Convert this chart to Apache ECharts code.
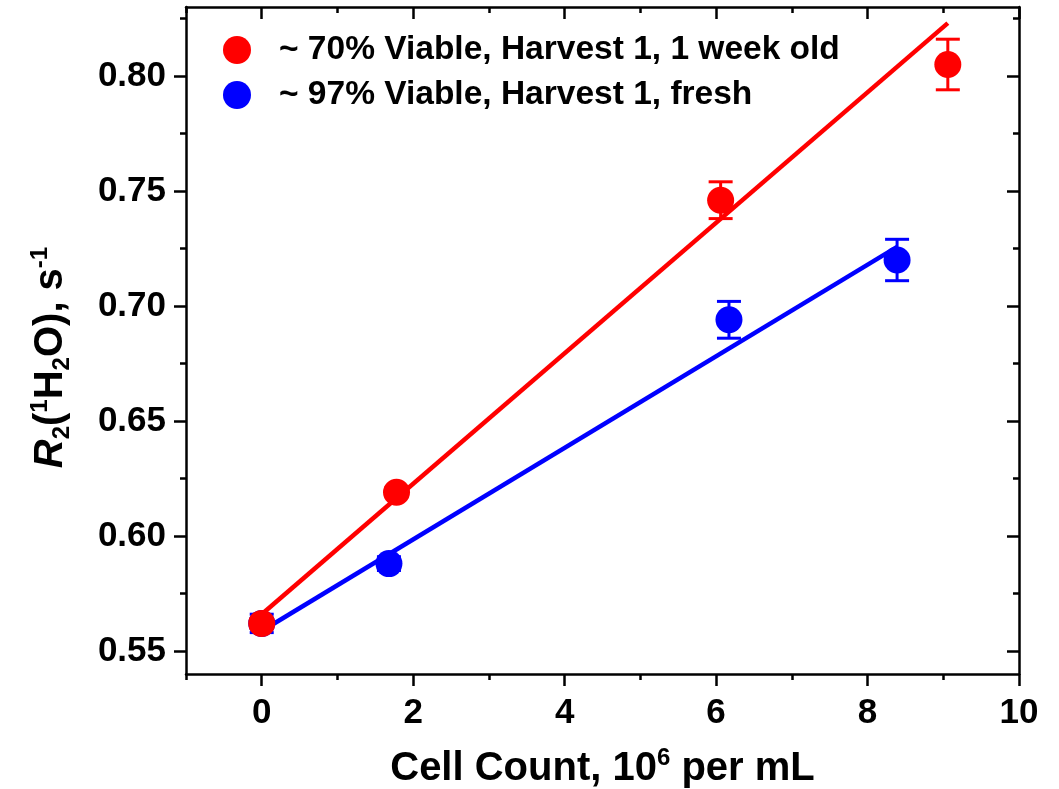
<!DOCTYPE html>
<html>
<head>
<meta charset="utf-8">
<script src="https://cdn.jsdelivr.net/npm/echarts@6/dist/echarts.min.js"></script>
<style>
html,body{margin:0;padding:0;background:#fff}
#chart{width:1059px;height:789px}
</style>
</head>
<body>
<div id="chart"></div>
<script>
var FONT = 'Liberation Sans, Arial, sans-serif'

// data
var redX = [0, 1.78, 6.06, 9.06]
var redY = [0.562, 0.619, 0.746, 0.805]
var redErr = [0.002, 0.002, 0.008, 0.011]
var blueX = [0, 1.68, 6.17, 8.39]
var blueY = [0.562, 0.588, 0.694, 0.720]
var blueErr = [0.004, 0.003, 0.008, 0.009]
// fitted lines (end points)
var redFitX = [0, 9.06]
var redFitY = [0.566, 0.823]
var blueFitX = [0, 8.39]
var blueFitY = [0.5587, 0.7257]

var xMajor = [0, 2, 4, 6, 8, 10]
var xMinor = [-1, 1, 3, 5, 7, 9]
var yMajor = [0.55, 0.60, 0.65, 0.70, 0.75, 0.80]
var yMinor = [0.575, 0.625, 0.675, 0.725, 0.775, 0.825]

var redName = '~ 70% Viable, Harvest 1, 1 week old'
var blueName = '~ 97% Viable, Harvest 1, fresh'

function pairs(xs, ys, es) {
	return xs.map(function (x, i) {
		return es ? [x, ys[i], es[i]] : [x, ys[i]]
	})
}

var lineStyle = {color: '#000', width: 2.5}

// one axis = line + ticks (+labels), minor ticks are drawn by a second axis
function makeAxis(pos, min, max, ticks, len, inside, showLine, labels) {
	return {
		type: 'value',
		position: pos,
		min: min,
		max: max,
		axisLine: {show: showLine, onZero: false, lineStyle: lineStyle},
		axisTick: {show: true, inside: inside, length: len, customValues: ticks, lineStyle: lineStyle},
		axisLabel: labels ? labels : {show: false},
		splitLine: {show: false},
		minorTick: {show: false}
	}
}

var labelStyle = {
	fontFamily: FONT,
	fontSize: 35,
	fontWeight: 'bold',
	color: '#000'
}

var xMain = makeAxis('bottom', -1, 10, xMajor, 12, false, true,
	Object.assign({customValues: xMajor, margin: 22}, labelStyle))
xMain.name = '{n|Cell Count, 10}{sup|6}{n| per mL}'
xMain.nameLocation = 'middle'
xMain.nameGap = 72
xMain.nameTextStyle = {
	rich: {
		n: {fontFamily: FONT, fontSize: 40, fontWeight: 'bold', color: '#000', lineHeight: 46},
		sup: {fontFamily: FONT, fontSize: 24, fontWeight: 'bold', color: '#000', verticalAlign: 'top'}
	}
}

var yMain = makeAxis('left', 0.54, 0.83, yMajor, 12, false, true,
	Object.assign({customValues: yMajor, margin: 20, formatter: function (v) { return v.toFixed(2) }}, labelStyle))
yMain.name = '{i|R}{sub|2}{n|(}{sup|1}{n|H}{sub|2}{n|O), s}{sup|-1}'
yMain.nameLocation = 'middle'
yMain.nameGap = 112
yMain.nameTextStyle = {
	padding: [0, 34, 0, 0],
	rich: {
		i: {fontFamily: FONT, fontSize: 40, fontWeight: 'bold', fontStyle: 'italic', color: '#000', lineHeight: 46},
		n: {fontFamily: FONT, fontSize: 40, fontWeight: 'bold', color: '#000', lineHeight: 46},
		sub: {fontFamily: FONT, fontSize: 24, fontWeight: 'bold', color: '#000', verticalAlign: 'bottom'},
		sup: {fontFamily: FONT, fontSize: 24, fontWeight: 'bold', color: '#000', verticalAlign: 'top'}
	}
}

function errorSeries(name, color, data) {
	return {
		type: 'custom',
		name: name + ' err',
		z: 3,
		data: data,
		renderItem: function (params, api) {
			var x = api.value(0), y = api.value(1), e = api.value(2)
			var top = api.coord([x, y + e])
			var bot = api.coord([x, y - e])
			var half = 12
			var st = {stroke: color, lineWidth: 3}
			return {
				type: 'group',
				children: [
					{type: 'line', shape: {x1: top[0], y1: top[1], x2: bot[0], y2: bot[1]}, style: st},
					{type: 'line', shape: {x1: top[0] - half, y1: top[1], x2: top[0] + half, y2: top[1]}, style: st},
					{type: 'line', shape: {x1: bot[0] - half, y1: bot[1], x2: bot[0] + half, y2: bot[1]}, style: st}
				]
			}
		}
	}
}

function fitSeries(color, data, z) {
	return {
		type: 'line',
		data: data,
		symbol: 'none',
		z: z,
		silent: true,
		lineStyle: {color: color, width: 4.5}
	}
}

function pointSeries(name, color, data, z) {
	return {
		type: 'scatter',
		name: name,
		data: data,
		symbol: 'circle',
		symbolSize: 27,
		z: z,
		itemStyle: {color: color, opacity: 1}
	}
}

var chart = echarts.init(document.getElementById('chart'))
chart.setOption({
	animation: false,
	backgroundColor: '#fff',
	grid: {left: 186, right: 40, top: 7, bottom: 115, containLabel: false, outerBoundsMode: 'none'},
	legend: {
		orient: 'vertical',
		left: 218,
		top: 28,
		itemWidth: 28,
		itemHeight: 28,
		itemGap: 11,
		icon: 'circle',
		data: [redName, blueName],
		textStyle: {fontFamily: FONT, fontSize: 33.5, fontWeight: 'bold', color: '#000', padding: [0, 0, 0, 23]}
	},
	xAxis: [
		xMain,
		makeAxis('bottom', -1, 10, xMinor, 6, false, false),
		makeAxis('top', -1, 10, xMajor, 12, true, true),
		makeAxis('top', -1, 10, xMinor, 6, true, false)
	],
	yAxis: [
		yMain,
		makeAxis('left', 0.54, 0.83, yMinor, 6, false, false),
		makeAxis('right', 0.54, 0.83, yMajor, 12, true, true),
		makeAxis('right', 0.54, 0.83, yMinor, 6, true, false)
	],
	series: [
		fitSeries('#0000ff', pairs(blueFitX, blueFitY), 2),
		errorSeries(blueName, '#0000ff', pairs(blueX, blueY, blueErr)),
		pointSeries(blueName, '#0000ff', pairs(blueX, blueY), 4),
		fitSeries('#ff0000', pairs(redFitX, redFitY), 5),
		errorSeries(redName, '#ff0000', pairs(redX, redY, redErr)),
		pointSeries(redName, '#ff0000', pairs(redX, redY), 7)
	]
})
</script>
</body>
</html>
